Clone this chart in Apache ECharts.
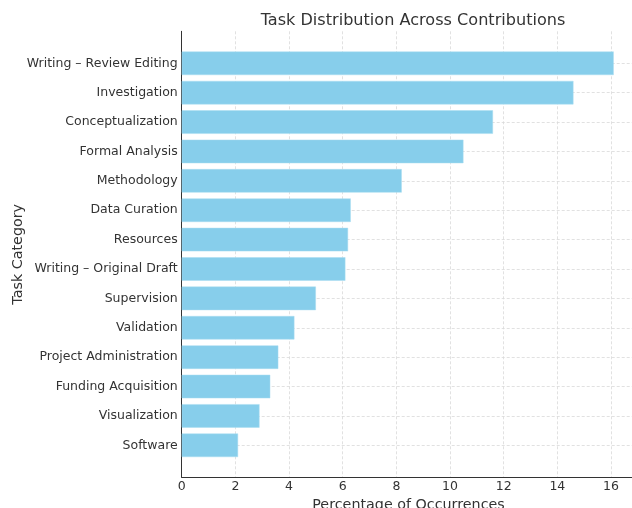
<!DOCTYPE html>
<html>
<head>
<meta charset="utf-8">
<script src="https://cdn.jsdelivr.net/npm/echarts@6/dist/echarts.min.js"></script>
<style>html,body{margin:0;padding:0;background:#fff}#c{width:632px;height:508px}</style>
</head>
<body>
<div id="c"></div>
<script>
const categories = ["Writing – Review Editing","Investigation","Conceptualization","Formal Analysis","Methodology","Data Curation","Resources","Writing – Original Draft","Supervision","Validation","Project Administration","Funding Acquisition","Visualization","Software"];
const values = [16.1,14.6,11.6,10.5,8.2,6.3,6.2,6.1,5.0,4.2,3.6,3.3,2.9,2.1];
const xMax = 16.905;
const font = "DejaVu Sans";
const txt = "#333333";
const chart = echarts.init(document.getElementById('c'), null, {renderer:'canvas'});
chart.setOption({
  backgroundColor:'#fff',
  animation:false,
  title:{text:'Task Distribution Across Contributions',left:408,top:8,textAlign:'center',
    textStyle:{fontFamily:font,fontSize:16.1,fontWeight:'normal',color:txt}},
  grid:[
    {left:181.7,right:-3.3,top:31.3,bottom:30.7,containLabel:false,outerBoundsMode:'none'},
    {left:181.7,right:-3.3,top:63.3,bottom:62.7,containLabel:false,outerBoundsMode:'none'}
  ],
  xAxis:[
    {type:'value',gridIndex:0,min:0,max:xMax,interval:2,
      name:'Percentage of Occurrences',nameLocation:'middle',nameGap:18,
      nameTextStyle:{fontFamily:font,fontSize:14.3,color:txt},
      axisLine:{show:true,lineStyle:{color:'#333',width:1}},
      axisTick:{show:false},
      axisLabel:{fontFamily:font,fontSize:12.5,color:txt,margin:3,showMaxLabel:false,
        formatter:v=>(Math.abs(v%2)<1e-9?String(v):'')},
      splitLine:{show:true,lineStyle:{color:'#d9d9d9',type:[3,2],width:0.8}}},
    {type:'value',gridIndex:1,min:0,max:xMax,show:false,splitLine:{show:false}}
  ],
  yAxis:[
    {type:'value',gridIndex:0,min:0,max:1,
      name:'Task Category',nameLocation:'middle',nameGap:156,nameRotate:90,
      nameTextStyle:{fontFamily:font,fontSize:14.3,color:txt},
      axisLine:{show:true,lineStyle:{color:'#333',width:1}},
      axisTick:{show:false},axisLabel:{show:false},splitLine:{show:false}},
    {type:'category',gridIndex:1,data:categories,inverse:true,boundaryGap:false,
      axisLine:{show:false},axisTick:{show:false},
      axisLabel:{fontFamily:font,fontSize:12.5,color:txt,margin:4,interval:0},
      splitLine:{show:true,lineStyle:{color:'#d9d9d9',type:[3,2],width:0.8}}}
  ],
  series:[{type:'bar',xAxisIndex:1,yAxisIndex:1,data:values,barWidth:'80%',clip:false,
    itemStyle:{color:'#87CEEB',borderColor:'#a8dcf0',borderWidth:0.5}}]
});
</script>
</body>
</html>
